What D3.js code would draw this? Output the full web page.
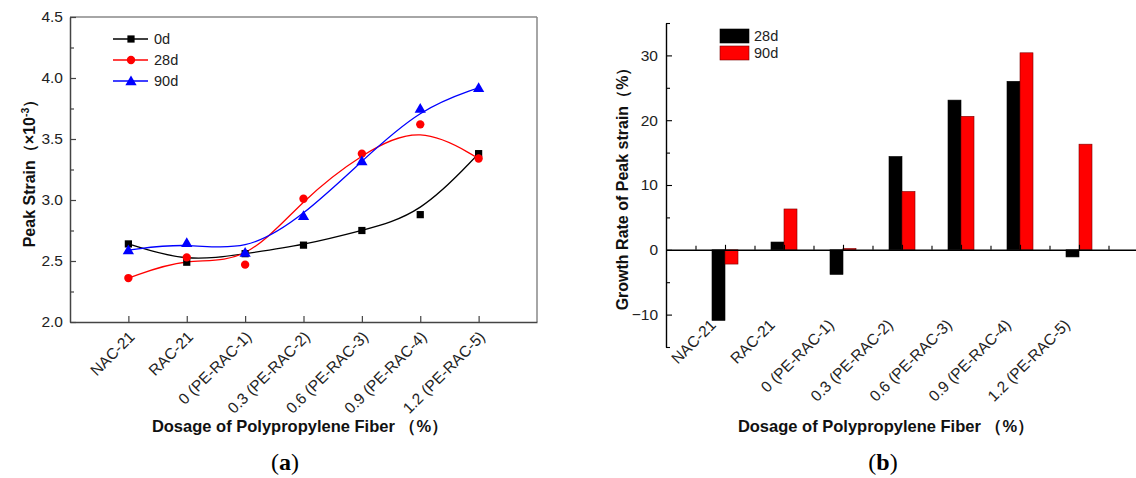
<!DOCTYPE html>
<html>
<head>
<meta charset="utf-8">
<script src="https://cdn.jsdelivr.net/npm/d3@7"></script>
<style>
  html, body { margin: 0; padding: 0; background: #fff; }
  svg { display: block; font-family: "Liberation Sans", Arial, sans-serif; }
</style>
</head>
<body>
<script>
// categories shared by both panels
var categories = ["NAC-21", "RAC-21", "0 (PE-RAC-1)", "0.3 (PE-RAC-2)", "0.6 (PE-RAC-3)", "0.9 (PE-RAC-4)", "1.2 (PE-RAC-5)"];

// panel (a): peak strain (x10^-3)
var strain0d  = [2.64, 2.49, 2.56, 2.63, 2.75, 2.88, 3.38];
var strain28d = [2.36, 2.53, 2.47, 3.01, 3.38, 3.62, 3.34];
var strain90d = [2.59, 2.65, 2.57, 2.87, 3.32, 3.75, 3.92];
var strainTicks = [2.0, 2.5, 3.0, 3.5, 4.0, 4.5];

// panel (b): growth rate of peak strain (%)
var growth28d = [-10.9, 1.2, -3.8, 14.4, 23.1, 26.0, -1.1];
var growth90d = [-2.2, 6.3, 0.2, 9.0, 20.6, 30.4, 16.3];
var growthTicks = [-10, 0, 10, 20, 30];

var W = 1136, H = 478;
var svg = d3.select("body").append("svg").attr("width", W).attr("height", H);

var idx = d3.range(1, categories.length + 1);
var tickFont = 15.5, titleFont = 16.5;

// ---------- panel (a) ----------
var a = { left: 70, right: 537, top: 17, bottom: 322 };
var xa = d3.scaleLinear().domain([0, 8]).range([a.left, a.right]);
var ya = d3.scaleLinear().domain([2.0, 4.5]).range([a.bottom, a.top]);

var ga = svg.append("g");

// frame top / right
ga.append("line").attr("x1", a.left).attr("x2", a.right).attr("y1", a.top).attr("y2", a.top)
  .attr("stroke", "#888").attr("stroke-width", 1.5);
ga.append("line").attr("x1", a.right).attr("x2", a.right).attr("y1", a.top).attr("y2", a.bottom)
  .attr("stroke", "#888").attr("stroke-width", 1.5);

// y axis
ga.append("g").attr("transform", "translate(" + a.left + ",0)")
  .call(d3.axisLeft(ya).tickValues(strainTicks).tickSize(-6).tickSizeOuter(0).tickPadding(7)
    .tickFormat(d3.format(".1f")));
ga.append("g").attr("transform", "translate(" + a.left + ",0)")
  .call(d3.axisLeft(ya).tickValues([2.25, 2.75, 3.25, 3.75, 4.25]).tickSize(-4).tickFormat(""))
  .select(".domain").remove();

// x axis
var xAxisA = ga.append("g").attr("transform", "translate(0," + a.bottom + ")")
  .call(d3.axisBottom(xa).tickValues(idx).tickSize(-6).tickSizeOuter(0)
    .tickFormat(function(d) { return categories[d - 1]; }));
xAxisA.selectAll("text")
  .attr("x", 0).attr("y", 0).attr("dy", "0.35em")
  .attr("text-anchor", "end")
  .attr("transform", "translate(3,12) rotate(-45)");

ga.selectAll(".domain").attr("stroke", "#444").attr("stroke-width", 1.5);
ga.selectAll(".tick line").attr("stroke", "#444").attr("stroke-width", 1.2);
ga.selectAll(".tick text").attr("font-size", tickFont).attr("fill", "#222")
  .attr("font-family", "Liberation Sans, Arial, sans-serif");

// smoothed lines
var seriesA = [
  { name: "0d",  values: strain0d,  color: "#000", shape: d3.symbolSquare,   size: 52 },
  { name: "28d", values: strain28d, color: "#ff0000", shape: d3.symbolCircle, size: 55 },
  { name: "90d", values: strain90d, color: "#0000ff", shape: d3.symbolTriangle, size: 55 }
];
var lineA = d3.line().curve(d3.curveBasis)
  .x(function(d, i) { return xa(i + 1); })
  .y(function(d) { return ya(d); });

seriesA.forEach(function(s) {
  ga.append("path").datum(s.values).attr("d", lineA)
    .attr("fill", "none").attr("stroke", s.color).attr("stroke-width", 1.3);
});
seriesA.forEach(function(s) {
  ga.selectAll(null).data(s.values).enter().append("path")
    .attr("d", d3.symbol().type(s.shape).size(s.size))
    .attr("transform", function(d, i) {
      var dy = s.shape === d3.symbolTriangle ? 1 : 0;
      return "translate(" + xa(i + 1) + "," + (ya(d) + dy) + ")";
    })
    .attr("fill", s.color);
});

// legend (a)
seriesA.forEach(function(s, i) {
  var ly = 39 + i * 21;
  ga.append("line").attr("x1", 113).attr("x2", 148).attr("y1", ly).attr("y2", ly)
    .attr("stroke", s.color).attr("stroke-width", 1.3);
  ga.append("path").attr("d", d3.symbol().type(s.shape).size(s.size))
    .attr("transform", "translate(131," + (ly + (s.shape === d3.symbolTriangle ? 1 : 0)) + ")")
    .attr("fill", s.color);
  ga.append("text").attr("x", 154).attr("y", ly + 5).attr("font-size", 14.5).attr("fill", "#222")
    .text(s.name);
});

// axis titles (a)
var ta = ga.append("text").attr("transform", "translate(35," + ((a.top + a.bottom) / 2) + ") rotate(-90)")
  .attr("text-anchor", "middle").attr("font-size", 16).attr("font-weight", "bold").attr("fill", "#111");
ta.append("tspan").text("Peak Strain（×10");
ta.append("tspan").attr("font-size", 10.5).attr("dy", -6).text("-3");
ta.append("tspan").attr("dy", 6).text("）");

ga.append("text").attr("x", 300).attr("y", 432)
  .attr("text-anchor", "middle").attr("font-size", titleFont).attr("font-weight", "bold").attr("fill", "#111")
  .text("Dosage of Polypropylene Fiber （%）");

var la = ga.append("text").attr("x", 285).attr("y", 470).attr("text-anchor", "middle")
  .attr("font-family", "Liberation Serif, serif").attr("font-size", 24).attr("fill", "#000");
la.append("tspan").text("(");
la.append("tspan").attr("font-weight", "bold").text("a");
la.append("tspan").text(")");

// ---------- panel (b) ----------
var b = { left: 666, top: 23, bottom: 347 };
var xb = d3.scaleLinear().domain([0, 8]).range([b.left, b.left + 8 * 59]);
var yb = d3.scaleLinear().domain([-15, 35]).range([b.bottom, b.top]);
var barW = 13;

var gb = svg.append("g");

// bars
gb.selectAll(".b28").data(growth28d).enter().append("rect")
  .attr("x", function(d, i) { return xb(i + 1) - barW; })
  .attr("y", function(d) { return yb(Math.max(0, d)); })
  .attr("width", barW)
  .attr("height", function(d) { return Math.abs(yb(d) - yb(0)); })
  .attr("fill", "#000").attr("stroke", "#000").attr("stroke-width", 0.6);
gb.selectAll(".b90").data(growth90d).enter().append("rect")
  .attr("x", function(d, i) { return xb(i + 1); })
  .attr("y", function(d) { return yb(Math.max(0, d)); })
  .attr("width", barW)
  .attr("height", function(d) { return Math.abs(yb(d) - yb(0)); })
  .attr("fill", "#ff0000").attr("stroke", "#7a0000").attr("stroke-width", 0.6);

// y axis
gb.append("g").attr("transform", "translate(" + b.left + ",0)")
  .call(d3.axisLeft(yb).tickValues(growthTicks).tickSize(-6).tickSizeOuter(0).tickPadding(8));
gb.append("g").attr("transform", "translate(" + b.left + ",0)")
  .call(d3.axisLeft(yb).tickValues([-15, -5, 5, 15, 25, 35]).tickSize(-4).tickFormat(""))
  .select(".domain").remove();

// x axis at zero
gb.append("g").attr("transform", "translate(0," + yb(0) + ")")
  .call(d3.axisBottom(xb).tickValues(idx).tickSize(-5).tickSizeOuter(0).tickFormat(""));
gb.append("g").attr("transform", "translate(0," + yb(0) + ")")
  .call(d3.axisBottom(xb).tickValues(idx.map(function(d) { return d - 0.5; }).concat([7.5]))
    .tickSize(-4).tickFormat(""))
  .select(".domain").remove();

gb.selectAll(".domain").attr("stroke", "#000").attr("stroke-width", 1.4);
gb.selectAll(".tick line").attr("stroke", "#000").attr("stroke-width", 1.1);
gb.selectAll(".tick text").attr("font-size", tickFont).attr("fill", "#222")
  .attr("font-family", "Liberation Sans, Arial, sans-serif");

// x labels (b)
gb.selectAll(".xl").data(categories).enter().append("text")
  .attr("transform", function(d, i) { return "translate(" + (xb(i + 1) - 12) + ",322) rotate(-45)"; })
  .attr("text-anchor", "end").attr("dy", "0.35em")
  .attr("font-size", tickFont).attr("fill", "#222")
  .text(function(d) { return d; });

// legend (b)
var legB = [{ name: "28d", color: "#000", stroke: "#000" }, { name: "90d", color: "#ff0000", stroke: "#7a0000" }];
legB.forEach(function(s, i) {
  var ry = 29 + i * 17;
  gb.append("rect").attr("x", 720).attr("y", ry).attr("width", 29).attr("height", 14)
    .attr("fill", s.color).attr("stroke", s.stroke).attr("stroke-width", 0.6);
  gb.append("text").attr("x", 754).attr("y", ry + 12).attr("font-size", 14.5).attr("fill", "#222").text(s.name);
});

// axis titles (b)
gb.append("text").attr("transform", "translate(628," + ((b.top + b.bottom) / 2) + ") rotate(-90)")
  .attr("text-anchor", "middle").attr("font-size", 16).attr("font-weight", "bold").attr("fill", "#111")
  .text("Growth Rate of Peak strain（%）");

gb.append("text").attr("x", 886).attr("y", 432)
  .attr("text-anchor", "middle").attr("font-size", titleFont).attr("font-weight", "bold").attr("fill", "#111")
  .text("Dosage of Polypropylene Fiber （%）");

var lb = gb.append("text").attr("x", 883).attr("y", 470).attr("text-anchor", "middle")
  .attr("font-family", "Liberation Serif, serif").attr("font-size", 24).attr("fill", "#000");
lb.append("tspan").text("(");
lb.append("tspan").attr("font-weight", "bold").text("b");
lb.append("tspan").text(")");
</script>
</body>
</html>
